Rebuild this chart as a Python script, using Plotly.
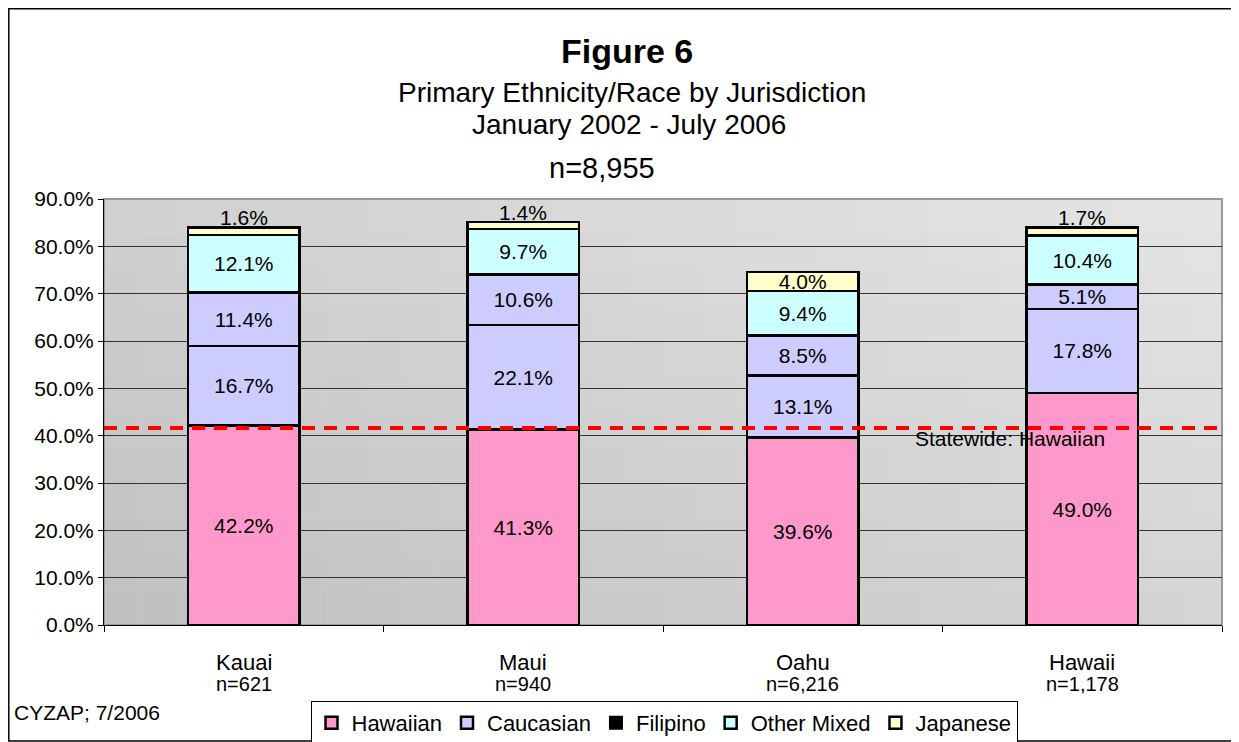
import plotly.graph_objects as go

# Dados (percentual por jurisdição)
jurisdictions = ["Kauai", "Maui", "Oahu", "Hawaii"]
counts = ["n=621", "n=940", "n=6,216", "n=1,178"]

hawaiian = [42.2, 41.3, 39.6, 49.0]
caucasian = [16.7, 22.1, 13.1, 17.8]
filipino = [11.4, 10.6, 8.5, 5.1]
other_mixed = [12.1, 9.7, 9.4, 10.4]
japanese = [1.6, 1.4, 4.0, 1.7]

statewide_hawaiian = 41.6
y_ticks = [0, 10, 20, 30, 40, 50, 60, 70, 80, 90]

FONT = "Liberation Sans, Arial, sans-serif"
PINK = "#FF99CC"
LAVENDER = "#CCCCFF"
CYAN = "#CCFFFF"
YELLOW = "#FFFFCC"

fig = go.Figure()


def add_series(values, name, color, showlegend=True, labels=None):
    if labels is None:
        labels = [f"{v:.1f}%" for v in values]
    fig.add_trace(
        go.Bar(
            x=jurisdictions,
            y=values,
            name=name,
            marker={"color": color, "line": {"color": "black", "width": 2.5}},
            text=labels,
            textposition="inside",
            insidetextanchor="middle",
            textfont={"size": 21, "color": "black", "family": FONT},
            showlegend=showlegend,
            cliponaxis=False,
            hoverinfo="skip",
        )
    )


# Japanese: rótulo dentro só onde cabe (Oahu); nos outros fica sobre o topo
japanese_inside = [False, False, True, False]

add_series(hawaiian, "Hawaiian", PINK)
add_series(caucasian, "Caucasian", LAVENDER)
# no gráfico a série Filipino aparece lilás, mas a legenda mostra preto
add_series(filipino, "Filipino", LAVENDER, showlegend=False)
fig.add_trace(
    go.Bar(
        x=[None], y=[None], name="Filipino",
        marker={"color": "black", "line": {"color": "black", "width": 2}},
    )
)
add_series(other_mixed, "Other Mixed", CYAN)
add_series(japanese, "Japanese", YELLOW,
           labels=[f"{v:.1f}%" if ins else "" for v, ins in zip(japanese, japanese_inside)])


# conversão de pixels da página para coordenadas "paper"
# (a página tem margem de 8px no body, por isso a figura é menor)
def py(pix):
    return (625 - pix) / 426


def px_(pix):
    return (pix - 104) / 1118


# fundo em degradê (aproximado com retângulos)
shapes = []
nx, ny = 30, 12
for i in range(nx):
    for j in range(ny):
        fx = (i + 0.5) / nx
        fy = (j + 0.5) / ny
        c = int(192 + 21 * fx + 17 * fy)
        shapes.append(dict(
            type="rect", xref="paper", yref="paper",
            x0=i / nx, x1=(i + 1) / nx, y0=j / ny, y1=(j + 1) / ny,
            fillcolor=f"rgb({c},{c},{c})", line={"width": 0}, layer="below",
        ))

# borda da área do gráfico
shapes.append(dict(type="rect", xref="paper", yref="paper", x0=0, x1=1, y0=0, y1=1,
                   line={"color": "#999999", "width": 2}, layer="below"))
# linha estadual
shapes.append(dict(type="line", xref="paper", yref="y", x0=0, x1=1,
                   y0=statewide_hawaiian, y1=statewide_hawaiian,
                   line={"color": "#FF0000", "width": 4, "dash": "13px,9px"}, layer="above"))
# moldura externa
shapes.append(dict(type="rect", xref="paper", yref="paper",
                   x0=px_(8.8), x1=px_(1237), y0=py(741), y1=py(8.8),
                   line={"color": "black", "width": 1.5}, layer="below"))

annotations = [
    dict(text="<b>Figure 6</b>", x=px_(627), y=py(51), font={"size": 34}),
    dict(text="Primary Ethnicity/Race by Jurisdiction", x=px_(632), y=py(93), font={"size": 28}),
    dict(text="January 2002 - July 2006", x=px_(629), y=py(124), font={"size": 28}),
    dict(text="n=8,955", x=px_(602), y=py(168), font={"size": 29}),
    dict(text="CYZAP; 7/2006", x=px_(12), y=py(712), xanchor="left", font={"size": 21}),
]
for a in annotations:
    a.update(xref="paper", yref="paper", showarrow=False, yanchor="middle")
    a.setdefault("xanchor", "center")
    a["font"].update(family=FONT, color="black")

# rótulos das categorias (nome + n)
for j, n in zip(jurisdictions, counts):
    annotations.append(dict(text=j, xref="x", yref="paper", x=j, y=py(662),
                            showarrow=False, yanchor="middle",
                            font={"size": 22, "family": FONT, "color": "black"}))
    annotations.append(dict(text=n, xref="x", yref="paper", x=j, y=py(684),
                            showarrow=False, yanchor="middle",
                            font={"size": 20, "family": FONT, "color": "black"}))

# rótulos Japanese logo acima do topo das barras
for k, j in enumerate(jurisdictions):
    if japanese_inside[k]:
        continue
    total = hawaiian[k] + caucasian[k] + filipino[k] + other_mixed[k] + japanese[k]
    annotations.append(dict(text=f"{japanese[k]:.1f}%", xref="x", yref="y", x=j, y=total,
                            yanchor="bottom", yshift=-4, showarrow=False,
                            font={"size": 21, "family": FONT, "color": "black"}))

annotations.append(dict(
    text="Statewide: Hawaiian", xref="x", yref="y", x=2.74, y=39.4,
    showarrow=False, font={"size": 21, "family": FONT, "color": "black"},
))

fig.update_layout(
    width=1231,
    height=734,
    barmode="stack",
    bargap=0.6,
    paper_bgcolor="white",
    plot_bgcolor="#d4d4d4",
    font={"family": FONT, "color": "black"},
    margin={"l": 96, "r": 17, "t": 191, "b": 117, "autoexpand": False},
    shapes=shapes,
    annotations=annotations,
    uniformtext={"minsize": 21, "mode": "show"},
    xaxis={
        "showticklabels": False,
        "ticks": "outside",
        "tickson": "boundaries",
        "ticklen": 6,
        "tickcolor": "black",
        "showline": True,
        "linecolor": "black",
        "linewidth": 1,
        "showgrid": False,
    },
    yaxis={
        "range": [0, 90],
        "tickmode": "array",
        "tickvals": y_ticks,
        "ticktext": [f"{v:.1f}%" for v in y_ticks],
        "tickfont": {"size": 21},
        "ticks": "outside",
        "ticklen": 5,
        "tickcolor": "black",
        "showline": True,
        "linecolor": "black",
        "linewidth": 1,
        "gridcolor": "#333333",
        "gridwidth": 1,
        "zeroline": False,
    },
    legend={
        "orientation": "h",
        "x": px_(664),
        "xanchor": "center",
        "y": py(701),
        "yanchor": "top",
        "bgcolor": "white",
        "bordercolor": "black",
        "borderwidth": 1,
        "font": {"size": 22},
        "itemwidth": 30,
        "tracegroupgap": 0,
        "traceorder": "normal",
    },
)

fig.write_html("out.html")
